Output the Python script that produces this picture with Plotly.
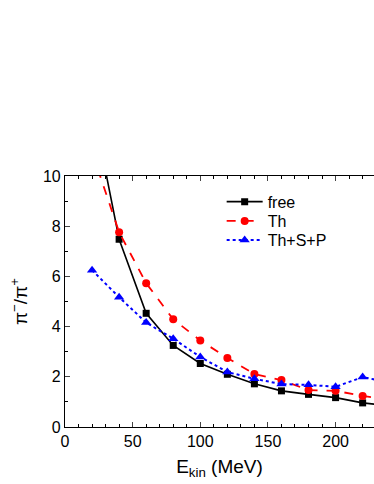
import plotly.graph_objects as go

energy = [20, 40, 60, 80, 100, 120, 140, 160, 180, 200, 220, 240]
free = [12.9, 7.48, 4.53, 3.25, 2.53, 2.10, 1.72, 1.44, 1.30, 1.17, 0.96, 0.84]
th = [10.95, 7.76, 5.73, 4.29, 3.45, 2.75, 2.11, 1.87, 1.47, 1.44, 1.24, 1.07]
th_sp = [6.25, 5.17, 4.16, 3.52, 2.79, 2.19, 1.92, 1.71, 1.68, 1.60, 1.99, 1.77]

fig = go.Figure()
fig.add_trace(go.Scatter(x=energy, y=free, name="free", mode="lines+markers",
                         line=dict(color="black", width=1.6),
                         marker=dict(symbol="square", size=7, color="black"),
                         legend="legend"))
fig.add_trace(go.Scatter(x=energy, y=th, name="Th", mode="lines+markers",
                         line=dict(color="red", width=1.8, dash="dash"),
                         marker=dict(symbol="circle", size=8, color="red"),
                         legend="legend2"))
fig.add_trace(go.Scatter(x=energy, y=th_sp, name="Th+S+P", mode="lines+markers",
                         line=dict(color="blue", width=2, dash="dot"),
                         marker=dict(symbol="triangle-up", size=9, color="blue"),
                         legend="legend3"))

font = "Liberation Sans, Arial, sans-serif"
leg = dict(x=0.507, xanchor="left", yanchor="middle", bgcolor="rgba(0,0,0,0)",
           font=dict(size=16), itemwidth=36)
fig.update_layout(
    width=374, height=484,
    margin=dict(l=65, r=0, t=176, b=57),
    plot_bgcolor="white", paper_bgcolor="white",
    font=dict(family=font, size=16, color="black"),
    showlegend=True,
    legend=dict(leg, y=0.8975),
    legend2=dict(leg, y=0.8205),
    legend3=dict(leg, y=0.7447),
    xaxis=dict(range=[0, 228.4], dtick=50, tick0=0, ticks="inside", ticklen=5,
               showline=True, linecolor="black", linewidth=1.2, mirror="ticks",
               showgrid=False, zeroline=False,
               minor=dict(dtick=10, ticks="inside", ticklen=3, tickcolor="black"),
               title=dict(text="E<sub>kin</sub> (MeV)", font=dict(size=19), standoff=10)),
    yaxis=dict(range=[0, 10], dtick=2, ticks="inside", ticklen=5,
               showline=True, linecolor="black", linewidth=1.2, mirror=False,
               showgrid=False, zeroline=False,
               minor=dict(dtick=1, ticks="inside", ticklen=3, tickcolor="black"),
               title=dict(text="π<sup>−</sup>/π<sup>+</sup>", font=dict(size=19), standoff=10)),
)
fig.write_html("out.html", config={"displayModeBar": False},
               post_script="document.body.style.margin='0';document.body.style.overflow='hidden';")
